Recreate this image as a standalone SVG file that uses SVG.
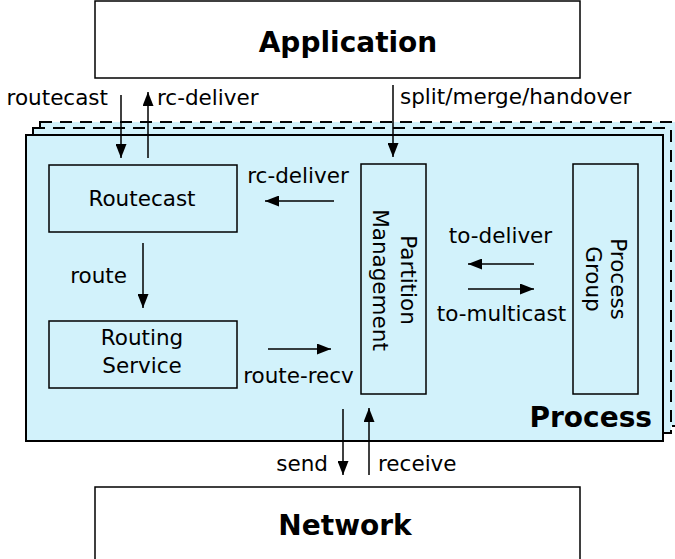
<svg xmlns="http://www.w3.org/2000/svg" width="675" height="559" viewBox="0 0 675 559">
<defs>
<marker id="ah" markerWidth="14" markerHeight="11" refX="14" refY="5.5" orient="auto" markerUnits="userSpaceOnUse">
<path d="M0,0 L14,5.5 L0,11 Z" fill="#000"/>
</marker>
<style>
.box{fill:#fff;stroke:#000;stroke-width:1.5}
.inner{fill:none;stroke:#000;stroke-width:1.5}
.dash{fill:#d2f2fb;stroke:#000;stroke-width:2;stroke-dasharray:12,8}
.t{font-family:"DejaVu Sans",sans-serif;font-size:21.5px;fill:#000}
.b{font-family:"DejaVu Sans",sans-serif;font-weight:bold;font-size:28px;fill:#000}
.c{text-anchor:middle}
.ar{stroke:#000;stroke-width:1.5;fill:none;marker-end:url(#ah)}
</style>
</defs>
<g id="process-stack">
<rect class="dash" x="40" y="122" width="650" height="304"/>
<rect class="dash" x="33" y="128" width="638" height="305"/>
<rect x="26" y="135" width="637" height="306" fill="#d2f2fb" stroke="#000" stroke-width="2"/>
<text class="b" x="652" y="427" text-anchor="end">Process</text>
</g>
<g id="application">
<rect class="box" x="95" y="1" width="485" height="77"/>
<text class="b c" x="348" y="52">Application</text>
</g>
<g id="network">
<rect class="box" x="95" y="487" width="485" height="80"/>
<text class="b c" x="345" y="535">Network</text>
</g>
<g id="routecast">
<rect class="inner" x="49" y="165" width="188" height="67"/>
<text class="t c" x="142" y="206">Routecast</text>
</g>
<g id="routing-service">
<rect class="inner" x="49" y="321" width="188" height="67"/>
<text class="t c" x="142" y="345">Routing</text>
<text class="t c" x="142" y="373">Service</text>
</g>
<g id="partition-management">
<rect class="inner" x="361" y="164" width="65" height="230"/>
<g transform="translate(393.5,280) rotate(90)">
<text class="t c" x="0" y="-7.5">Partition</text>
<text class="t c" x="0" y="20.5">Management</text>
</g>
</g>
<g id="process-group">
<rect class="inner" x="573" y="164" width="65" height="230"/>
<g transform="translate(605.5,279) rotate(90)">
<text class="t c" x="0" y="-5.5">Process</text>
<text class="t c" x="0" y="19.5">Group</text>
</g>
</g>
<g id="connectors">
<line class="ar" x1="121" y1="95" x2="121" y2="158"/>
<line class="ar" x1="148" y1="158" x2="148" y2="92"/>
<line class="ar" x1="393" y1="85" x2="393" y2="157"/>
<line class="ar" x1="334" y1="201" x2="265" y2="201"/>
<line class="ar" x1="143" y1="243" x2="143" y2="308"/>
<line class="ar" x1="268" y1="349" x2="331" y2="349"/>
<line class="ar" x1="534" y1="264" x2="468" y2="264"/>
<line class="ar" x1="468" y1="289" x2="534" y2="289"/>
<line class="ar" x1="343" y1="409" x2="343" y2="475"/>
<line class="ar" x1="369" y1="475" x2="369" y2="408"/>
<text class="t" x="108" y="105" text-anchor="end">routecast</text>
<text class="t" x="157" y="105">rc-deliver</text>
<text class="t" x="400" y="104">split/merge/handover</text>
<text class="t c" x="298" y="183">rc-deliver</text>
<text class="t" x="127" y="283" text-anchor="end">route</text>
<text class="t c" x="298.5" y="383">route-recv</text>
<text class="t c" x="500.5" y="243">to-deliver</text>
<text class="t c" x="501.5" y="321">to-multicast</text>
<text class="t" x="328" y="471" text-anchor="end">send</text>
<text class="t" x="378" y="471">receive</text>
</g>
</svg>
